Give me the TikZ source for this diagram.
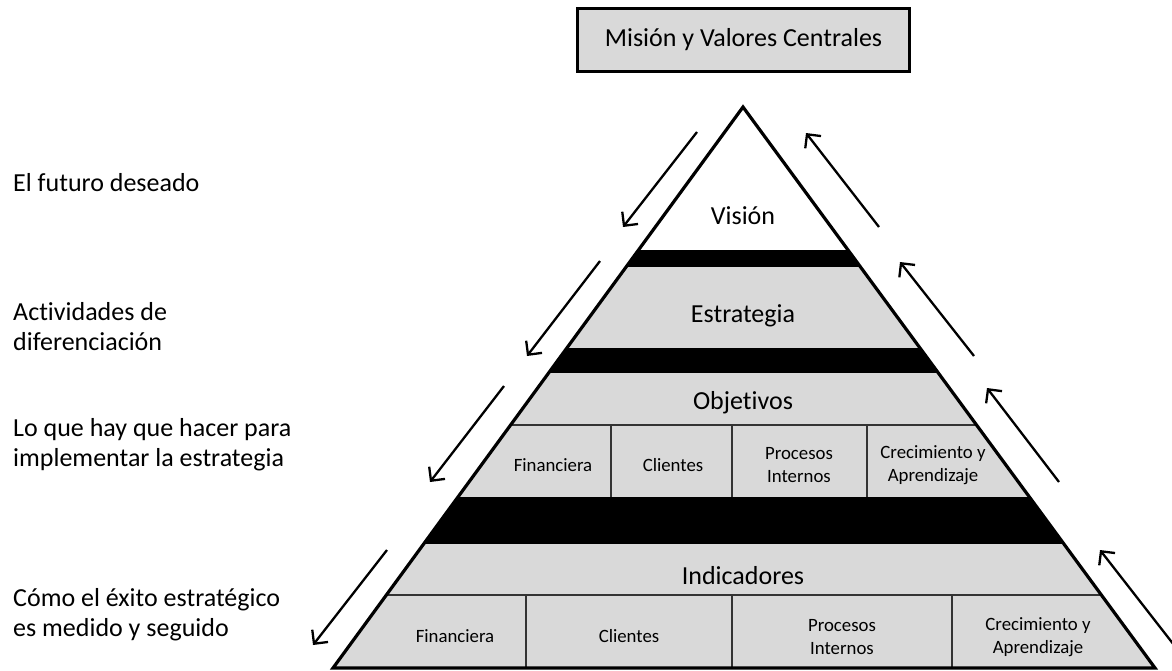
\documentclass[tikz,border=0pt]{standalone}
\usepackage{fontspec}
\setmainfont[Ligatures=NoCommon]{Carlito}
\usetikzlibrary{arrows.meta}
\definecolor{band}{HTML}{D9D9D9}
\begin{document}
\begin{tikzpicture}[x=1pt,y=-1pt,
  sidelabel/.style={anchor=west,inner sep=0pt,align=left,font=\fontsize{26}{30}\selectfont},
  layerlabel/.style={inner sep=0pt,font=\fontsize{26}{30}\selectfont},
  celllabel/.style={inner sep=0pt,align=center,font=\fontsize{18.8}{22.5}\selectfont},
  cellline/.style={line width=1.8pt,draw=black!80},
  flowarrow/.style={line width=2.3pt,-{Straight Barb[length=10pt,width=20pt]}},
  outline/.style={line width=3.2pt,line join=miter}]
\useasboundingbox (0,0) rectangle (1172,670);
% triangle corners
\coordinate (A) at (743,107);
\coordinate (L) at (333,668);
\coordinate (R) at (1155,668);
% bands
\begin{scope}
  \clip (A) -- (L) -- (R) -- cycle;
  \fill[band] (0,267) rectangle (1172,670);
  \fill[black] (0,250) rectangle (1172,267);
  \fill[black] (0,348) rectangle (1172,373);
  \fill[black] (0,497) rectangle (1172,544);
  \draw[cellline] (0,425) -- (1172,425);
  \draw[cellline] (0,595) -- (1172,595);
  \draw[cellline] (611,425) -- (611,497);
  \draw[cellline] (732,425) -- (732,497);
  \draw[cellline] (867,425) -- (867,497);
  \draw[cellline] (526,595) -- (526,668);
  \draw[cellline] (732,595) -- (732,668);
  \draw[cellline] (952,595) -- (952,668);
\end{scope}
\draw[outline] (A) -- (L) -- (R) -- cycle;
% mission box
\node[draw,line width=2.5pt,fill=band,minimum width=332pt,minimum height=63pt,inner sep=0pt,
  font=\fontsize{26}{30}\selectfont] (mission) at (743.5,40) {Misión y Valores Centrales};
% layer labels
\node[layerlabel] (vision) at (743,216) {Visión};
\node[layerlabel] (estrategia) at (743,316) {Estrategia};
\node[layerlabel] (objetivos) at (743,403) {Objetivos};
\node[layerlabel] (indicadores) at (743,576) {Indicadores};
% objetivos cells
\node[celllabel] (of) at (553,465) {Financiera};
\node[celllabel] (oc) at (673,465) {Clientes};
\node[celllabel] (op) at (799,465) {Procesos\\Internos};
\node[celllabel] (ocr) at (933,465) {Crecimiento y\\Aprendizaje};
% indicadores cells
\node[celllabel] (if) at (455,636) {Financiera};
\node[celllabel] (ic) at (629,636) {Clientes};
\node[celllabel] (ip) at (842,637) {Procesos\\Internos};
\node[celllabel] (icr) at (1038,637) {Crecimiento y\\Aprendizaje};
% side labels
\node[sidelabel] (s1) at (13,183) {El futuro deseado};
\node[sidelabel] (s2) at (13,327) {Actividades de\\diferenciación};
\node[sidelabel] (s3) at (13,445) {Lo que hay que hacer para\\implementar la estrategia};
\node[sidelabel] (s4) at (13,615) {Cómo el éxito estratégico\\es medido y seguido};
% arrows
\coordinate (la1) at (697,132); \coordinate (lb1) at (623,227);
\coordinate (la2) at (600,261); \coordinate (lb2) at (527,356);
\coordinate (la3) at (504,386); \coordinate (lb3) at (430,482);
\coordinate (la4) at (387,550); \coordinate (lb4) at (313,645);
\coordinate (ra1) at (879,227); \coordinate (rb1) at (806,133);
\coordinate (ra2) at (974,356); \coordinate (rb2) at (900,262);
\coordinate (ra3) at (1059,482); \coordinate (rb3) at (987,388);
\coordinate (ra4) at (1174,645); \coordinate (rb4) at (1100,550);
\foreach \i in {1,2,3,4}{
  \draw[flowarrow] (la\i) -- (lb\i);
  \draw[flowarrow] (ra\i) -- (rb\i);
}
\end{tikzpicture}
\end{document}
